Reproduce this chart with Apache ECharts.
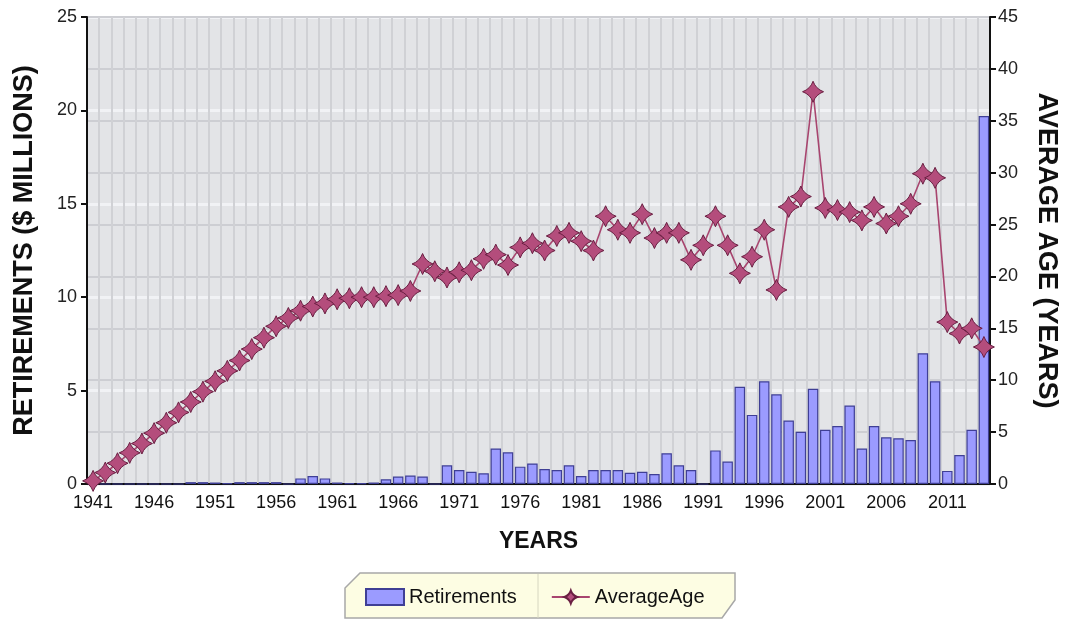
<!DOCTYPE html>
<html lang="en">
<head>
<meta charset="UTF-8">
<title>Retirements and average age</title>
<script src="https://cdn.jsdelivr.net/npm/echarts@6/dist/echarts.min.js"></script>
<style>html,body{margin:0;padding:0;background:#fff;}</style>
</head>
<body>
<div id="main" style="width:1065px;height:619px;"></div>
<script>
// years on the x axis
var years = ['1941','1942','1943','1944','1945','1946','1947','1948','1949','1950',
  '1951','1952','1953','1954','1955','1956','1957','1958','1959','1960',
  '1961','1962','1963','1964','1965','1966','1967','1968','1969','1970',
  '1971','1972','1973','1974','1975','1976','1977','1978','1979','1980',
  '1981','1982','1983','1984','1985','1986','1987','1988','1989','1990',
  '1991','1992','1993','1994','1995','1996','1997','1998','1999','2000',
  '2001','2002','2003','2004','2005','2006','2007','2008','2009','2010',
  '2011','2012','2013','2014'];

// retirements, $ millions (left axis)
var retirements = [0,0,0,0,0,0,0,0,0.1,0.1,
  0.08,0.03,0.1,0.1,0.1,0.1,0,0.3,0.43,0.3,
  0.08,0.05,0.05,0.08,0.25,0.4,0.45,0.4,0,1.0,
  0.75,0.65,0.57,1.9,1.7,0.93,1.1,0.8,0.75,1.0,
  0.43,0.75,0.75,0.75,0.6,0.65,0.53,1.65,1.0,0.75,
  0,1.8,1.2,5.2,3.7,5.5,4.8,3.4,2.8,5.1,
  2.9,3.1,4.2,1.9,3.1,2.5,2.45,2.35,7.0,5.5,
  0.7,1.55,2.9,19.7];

// average age, years (right axis)
var averageAge = [0.3,1.1,2.0,3.0,3.9,4.9,5.9,6.9,7.9,8.9,
  9.9,10.9,11.9,13.0,14.1,15.2,16.0,16.7,17.1,17.4,
  17.8,17.9,18.0,18.0,18.1,18.2,18.6,21.2,20.5,19.9,
  20.4,20.6,21.7,22.1,21.1,22.8,23.2,22.5,23.9,24.2,
  23.4,22.5,25.8,24.5,24.2,26.0,23.7,24.2,24.2,21.6,
  23.0,25.8,23.0,20.3,21.9,24.5,18.7,26.7,27.7,37.8,
  26.6,26.4,26.2,25.4,26.7,25.1,25.8,27.0,29.9,29.5,
  15.6,14.5,15.0,13.2];

var font = '"Liberation Sans", Arial, sans-serif';
// four pointed star marker
var star = 'path://M0,-10 Q2.6,-2.6 10,0 Q2.6,2.6 0,10 Q-2.6,2.6 -10,0 Q-2.6,-2.6 0,-10 Z';

var myChart = echarts.init(document.getElementById('main'));

var option = {
  animation: false,
  backgroundColor: '#ffffff',
  textStyle: { fontFamily: font },
  grid: {
    left: 87, right: 75, top: 17, bottom: 135,
    outerBoundsMode: 'none',
    show: true,
    backgroundColor: '#e3e4e7',
    borderColor: '#9a9a9a',
    borderWidth: 1
  },
  // legend box with cut corners
  graphic: [
    {
      type: 'polygon', z: -1,
      shape: { points: [[360,573],[735,573],[735,600],[722,618],[345,618],[345,588]] },
      style: { fill: '#fdfde3', stroke: '#a8a8a8', lineWidth: 1.5 }
    },
    {
      type: 'line', z: 0,
      shape: { x1: 538, y1: 574, x2: 538, y2: 618 },
      style: { stroke: '#d6d6c0', lineWidth: 1 }
    }
  ],
  legend: {
    left: 360, top: 582,
    itemWidth: 38, itemHeight: 16, itemGap: 34,
    textStyle: { fontFamily: font, fontSize: 20, color: '#111' },
    data: [
      { name: 'Retirements', icon: 'rect' },
      { name: 'AverageAge' }
    ]
  },
  xAxis: {
    type: 'category',
    data: years,
    name: 'YEARS',
    nameLocation: 'middle',
    nameGap: 46,
    nameTextStyle: { fontFamily: font, fontSize: 23, fontWeight: 'bold', color: '#111' },
    axisLine: { lineStyle: { color: '#111', width: 2 } },
    axisTick: { alignWithLabel: true, interval: 4, length: 6, lineStyle: { color: '#111', width: 2 } },
    axisLabel: { interval: 4, fontSize: 18, color: '#111', margin: 10 },
    splitLine: { show: true, interval: 0, lineStyle: { color: '#d0d1d5', width: 2 } }
  },
  yAxis: [
    {
      type: 'value',
      min: 0, max: 25, interval: 5,
      name: 'RETIREMENTS ($ MILLIONS)',
      nameLocation: 'middle',
      nameGap: 49,
      nameTextStyle: { fontFamily: font, fontSize: 27, fontWeight: 'bold', color: '#111' },
      axisLine: { show: true, lineStyle: { color: '#111', width: 2 } },
      axisTick: { show: true, length: 6, lineStyle: { color: '#111', width: 2 } },
      axisLabel: { fontSize: 18, color: '#222', margin: 10 },
      splitLine: { show: true, lineStyle: { color: '#f1f2f5', width: 3 } }
    },
    {
      type: 'value',
      min: 0, max: 45, interval: 5,
      name: 'AVERAGE AGE (YEARS)',
      nameLocation: 'middle',
      nameGap: 43,
      nameRotate: -90,
      nameTextStyle: { fontFamily: font, fontSize: 27, fontWeight: 'bold', color: '#111' },
      axisLine: { show: true, lineStyle: { color: '#111', width: 2 } },
      axisTick: { show: true, length: 6, lineStyle: { color: '#111', width: 2 } },
      axisLabel: { fontSize: 18, color: '#222', margin: 8 },
      splitLine: { show: true, lineStyle: { color: '#cdced3', width: 2 } }
    }
  ],
  series: [
    {
      name: 'Retirements',
      type: 'bar',
      yAxisIndex: 0,
      data: retirements,
      barCategoryGap: '14%',
      itemStyle: { color: '#9b9bff', borderColor: '#3f3f95', borderWidth: 1.2 }
    },
    {
      name: 'AverageAge',
      type: 'line',
      yAxisIndex: 1,
      data: averageAge,
      symbol: star,
      symbolSize: 21,
      showAllSymbol: true,
      lineStyle: { color: '#a8456f', width: 1.6 },
      itemStyle: { color: '#b44d7c', borderColor: '#6a1f42', borderWidth: 1 },
      z: 5
    }
  ]
};

myChart.setOption(option);
</script>
</body>
</html>
